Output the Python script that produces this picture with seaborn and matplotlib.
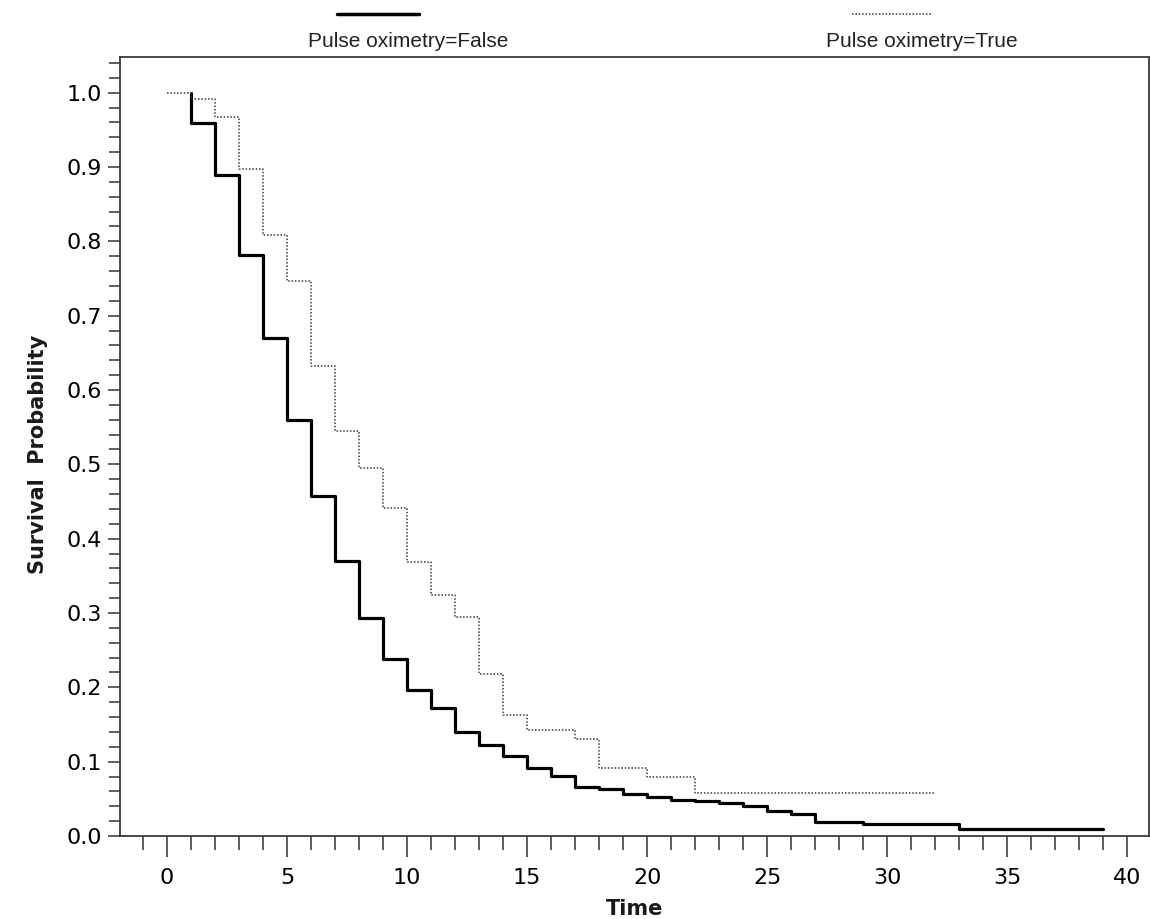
import numpy as np
import pandas as pd
import seaborn as sns
import matplotlib.pyplot as plt
from matplotlib.lines import Line2D
from matplotlib.ticker import MultipleLocator, FormatStrFormatter

# Kaplan-Meier style step data
time_false = [1, 1, 2, 3, 4, 5, 6, 7, 8, 9, 10, 11, 12, 13, 14, 15, 16, 17, 18, 19,
              20, 21, 22, 23, 24, 25, 26, 27, 29, 33, 39]
surv_false = [1.0, 0.959, 0.889, 0.782, 0.670, 0.559, 0.457, 0.370, 0.293, 0.238,
              0.196, 0.172, 0.140, 0.123, 0.107, 0.092, 0.081, 0.066, 0.063, 0.056,
              0.052, 0.049, 0.047, 0.044, 0.040, 0.033, 0.029, 0.019, 0.016, 0.010, 0.010]

time_true = [0, 1, 2, 3, 4, 5, 6, 7, 8, 9, 10, 11, 12, 13, 14, 15, 17, 18, 20, 22, 32]
surv_true = [1.0, 0.992, 0.967, 0.897, 0.808, 0.746, 0.632, 0.545, 0.495, 0.441,
             0.368, 0.324, 0.294, 0.218, 0.163, 0.143, 0.130, 0.092, 0.079, 0.058, 0.058]

labels = ['Pulse oximetry=False', 'Pulse oximetry=True']

sns.set_style('ticks')
plt.rcParams['font.family'] = ['DejaVu Sans']

df_false = pd.DataFrame({'Time': time_false, 'Survival': surv_false})
df_true = pd.DataFrame({'Time': time_true, 'Survival': surv_true})

fig = plt.figure(figsize=(11.5, 9.19), dpi=100)
ax = fig.add_axes([120 / 1150, 83 / 919, 1029 / 1150, 779 / 919])

sns.lineplot(data=df_false, x='Time', y='Survival', ax=ax, estimator=None, sort=False,
             drawstyle='steps-post', color='black', linewidth=2.3)
sns.lineplot(data=df_true, x='Time', y='Survival', ax=ax, estimator=None, sort=False,
             drawstyle='steps-post', color='#3a3a3a', linewidth=1.1, linestyle=(0, (1, 1.2)))

ax.set_xlim(-1.96, 40.9)
ax.set_ylim(0, 1.048)

ax.xaxis.set_major_locator(MultipleLocator(5))
ax.xaxis.set_minor_locator(MultipleLocator(1))
ax.yaxis.set_major_locator(MultipleLocator(0.1))
ax.yaxis.set_minor_locator(MultipleLocator(0.02))
ax.yaxis.set_major_formatter(FormatStrFormatter('%.1f'))

ax.tick_params(axis='x', which='major', direction='out', length=15, width=1.1,
               color='#333333', pad=8, labelsize=16, labelcolor='black')
ax.tick_params(axis='x', which='minor', direction='out', length=10, width=1.1, color='#333333')
ax.tick_params(axis='y', which='major', direction='out', length=9, width=1.1,
               color='#333333', pad=4, labelsize=16, labelcolor='black')
ax.tick_params(axis='y', which='minor', direction='out', length=8, width=1.1, color='#333333')

for s in ax.spines.values():
    s.set_visible(True)
    s.set_linewidth(1.3)
    s.set_color('#3a3a3a')

ax.set_xlabel('Time', fontsize=15, fontweight='bold', color='#1a1a1a')
ax.set_ylabel('Survival  Probability', fontsize=15, fontweight='bold', color='#1a1a1a')
ax.xaxis.set_label_coords(0.5, -0.081)
ax.yaxis.set_label_coords(-0.07, 0.49)

# legend drawn above the plot, handle over label
fig.add_artist(Line2D([337 / 1150, 419 / 1150], [1 - 14 / 919] * 2, transform=fig.transFigure,
                      color='black', linewidth=2.5))
fig.add_artist(Line2D([852 / 1150, 932 / 1150], [1 - 14 / 919] * 2, transform=fig.transFigure,
                      color='#3a3a3a', linewidth=1.1, linestyle=(0, (1, 1.2))))
fig.text(308 / 1150, 1 - 47 / 919, labels[0], fontsize=15, family='Liberation Sans',
         color='#222222', ha='left', va='baseline')
fig.text(826 / 1150, 1 - 47 / 919, labels[1], fontsize=15, family='Liberation Sans',
         color='#222222', ha='left', va='baseline')

fig.savefig('out.png', dpi=100)
